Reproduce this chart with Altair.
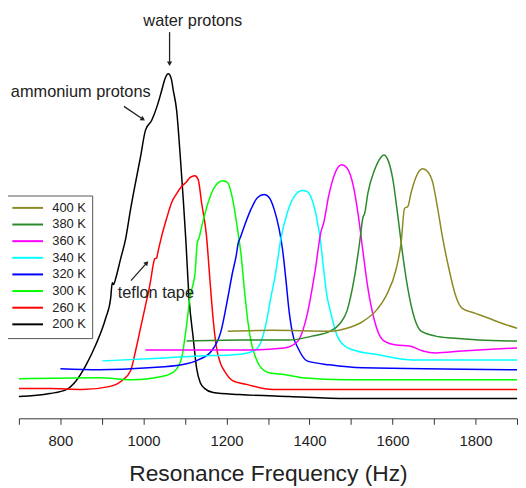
import altair as alt
import pandas as pd

FONT = "Liberation Sans"

labels = ["400 K", "380 K", "360 K", "340 K", "320 K", "300 K", "260 K", "200 K"]
colors = ["#8c8a22", "#2a8a2a", "#ff00ff", "#00ffff", "#0000ff", "#00ff00", "#ff0000", "#000000"]

f200 = [700, 774, 814, 838, 862, 885, 909, 921, 925, 928, 933, 945, 957, 969, 981, 993, 1005, 1020, 1032, 1044,
        1052, 1060, 1067, 1072, 1080, 1088, 1096, 1102, 1110, 1120, 1128, 1137, 1148, 1168, 1231, 1351, 1490, 1657, 1900]
i200 = [22, 25, 29, 38, 54, 74, 101, 121, 137, 135, 141, 161, 181, 211, 238, 264, 291, 301, 314, 331,
        343, 348, 343, 331, 311, 269, 221, 181, 121, 81, 51, 36, 30, 26, 24, 22, 20, 20, 20]

f260 = [700, 774, 853, 917, 948, 969, 981, 993, 1005, 1017, 1024, 1027, 1032, 1034, 1044, 1056, 1068, 1080, 1092, 1104,
        1112, 1124, 1132, 1140, 1152, 1160, 1168, 1175, 1187, 1195, 1215, 1251, 1311, 1490, 1900]
i260 = [30, 30, 29, 32, 38, 48, 68, 91, 114, 138, 156, 161, 162, 166, 184, 202, 218, 227, 234, 239,
        243, 245, 241, 218, 184, 141, 100, 74, 54, 48, 38, 34, 29, 29, 29]

f300 = [700, 893, 972, 1052, 1076, 1092, 1104, 1112, 1120, 1124, 1130, 1134, 1140, 1156, 1172, 1191, 1203, 1215, 1227, 1235,
        1243, 1251, 1259, 1270, 1280, 1303, 1342, 1382, 1490, 1900]
i300 = [40, 41, 39, 43, 48, 61, 94, 122, 136, 145, 178, 182, 193, 218, 234, 240, 238, 221, 190, 166,
        131, 100, 78, 62, 53, 46, 44, 41, 39, 39]

f320 = [800, 893, 1013, 1092, 1132, 1164, 1187, 1203, 1215, 1223, 1229, 1233, 1243, 1259, 1275, 1291, 1303, 1315, 1327, 1335,
        1343, 1351, 1362, 1370, 1394, 1449, 1529, 1900]
i320 = [50, 49, 51, 54, 59, 68, 88, 121, 148, 163, 178, 182, 194, 211, 223, 226, 223, 211, 191, 171,
        141, 108, 81, 73, 58, 54, 51, 49]

f340 = [901, 1052, 1132, 1211, 1251, 1275, 1283, 1295, 1307, 1319, 1331, 1347, 1362, 1382, 1394, 1406, 1418, 1426, 1434, 1442,
        1450, 1466, 1482, 1506, 1569, 1649, 1900]
i340 = [58, 61, 63, 64, 66, 71, 77, 95, 122, 148, 181, 208, 223, 230, 229, 221, 201, 181, 151, 124,
        109, 84, 74, 69, 64, 59, 59]

f360 = [1005, 1132, 1251, 1339, 1370, 1394, 1414, 1428, 1434, 1446, 1462, 1478, 1490, 1506, 1518, 1529, 1541, 1557, 1577, 1609,
        1641, 1673, 1704, 1768, 1848, 1900]
i360 = [69, 69, 69, 71, 77, 104, 150, 189, 197, 224, 248, 256, 253, 234, 204, 168, 131, 98, 79, 74,
        73, 68, 66, 68, 70, 71]

f380 = [1104, 1231, 1351, 1406, 1450, 1474, 1490, 1509, 1521, 1529, 1533, 1541, 1557, 1573, 1579, 1589, 1601, 1613, 1625, 1637,
        1653, 1669, 1704, 1744, 1808, 1900]
i380 = [78, 79, 79, 83, 88, 96, 108, 144, 178, 203, 207, 228, 251, 264, 266, 261, 241, 204, 164, 131,
        101, 88, 83, 81, 79, 78]

f400 = [1203, 1311, 1450, 1490, 1529, 1561, 1585, 1609, 1621, 1629, 1637, 1645, 1657, 1673, 1685, 1697, 1708, 1720, 1736, 1752,
        1768, 1800, 1832, 1863, 1900]
i400 = [88, 89, 88, 91, 98, 109, 124, 151, 178, 212, 214, 228, 244, 252, 249, 238, 214, 184, 151, 124,
        111, 106, 101, 96, 91]

series = [("200 K", f200, i200), ("260 K", f260, i260), ("300 K", f300, i300), ("320 K", f320, i320),
          ("340 K", f340, i340), ("360 K", f360, i360), ("380 K", f380, i380), ("400 K", f400, i400)]

rows = []
for k, (name, fs, ins) in enumerate(series):
    for j, (f, v) in enumerate(zip(fs, ins)):
        rows.append({"T": name, "freq": f, "inten": v, "ord": j})
df = pd.DataFrame(rows)

# annotations (data coordinates)
ann_text = ["water protons", "ammonium protons", "teflon tape"]
ann_x = [1119, 849, 1030]
ann_y = [401, 329, 126]

arr_x = [1063, 953, 970]
arr_y = [390, 315, 139]
arr_x2 = [1063, 999, 1008]
arr_y2 = [358, 302, 157]
arr_ang = [180, 124, 42]

ann_df = pd.DataFrame({"t": ann_text, "x": ann_x, "y": ann_y})
arr_df = pd.DataFrame({"x": arr_x, "y": arr_y, "x2": arr_x2, "y2": arr_y2, "ang": arr_ang})

xscale = alt.Scale(domain=[700, 1900], nice=False, zero=False)
yscale = alt.Scale(domain=[0, 412], nice=False, zero=False)

xaxis = alt.Axis(
    values=list(range(700, 1901, 100)), format="d",
    labelExpr="datum.value % 200 == 0 ? datum.label : ''",
    grid=False, tickSize=6, tickColor="#333", domainColor="#333", domainWidth=1, tickWidth=1,
    labelFont=FONT, labelFontSize=15, labelColor="#222", labelOverlap=False, labelFlush=False,
    labelPadding=9,
    title="Resonance Frequency (Hz)", titleFont=FONT, titleFontSize=23, titleFontWeight="normal",
    titleColor="#222", titleBaseline="alphabetic", titleY=63,
)

lines = alt.Chart(df).mark_line(strokeWidth=1.5, interpolate="monotone").encode(
    x=alt.X("freq:Q", scale=xscale, axis=xaxis),
    y=alt.Y("inten:Q", scale=yscale, axis=None),
    color=alt.Color("T:N", scale=alt.Scale(domain=labels, range=colors),
                    legend=alt.Legend(orient="none", legendX=-12, legendY=187, title=None,
                                      strokeColor="#555", fillColor="white", padding=6,
                                      symbolType="M-1.38,0H4.61", symbolSize=107, symbolStrokeWidth=2,
                                      labelFont=FONT, labelFontSize=13, labelColor="#222",
                                      rowPadding=2.8, labelOffset=26.7, symbolLimit=0)),
    order="ord:Q",
)

texts = alt.Chart(ann_df).mark_text(font=FONT, fontSize=16.5, color="#222", baseline="middle", align="center").encode(
    x=alt.X("x:Q", scale=xscale), y=alt.Y("y:Q", scale=yscale), text="t:N")

arrows = alt.Chart(arr_df).mark_rule(color="#222", strokeWidth=1.3).encode(
    x=alt.X("x:Q", scale=xscale), y=alt.Y("y:Q", scale=yscale), x2="x2:Q", y2="y2:Q")

heads = alt.Chart(arr_df).mark_point(shape="triangle-up", filled=True, size=28, color="#222", opacity=1).encode(
    x=alt.X("x2:Q", scale=xscale), y=alt.Y("y2:Q", scale=yscale), angle=alt.Angle("ang:Q", scale=None))

chart = alt.layer(lines, arrows, heads, texts).properties(
    width=503, height=412,
    autosize=alt.AutoSizeParams(type="none"),
    padding={"left": 11, "top": 0, "right": 1, "bottom": 66},
).configure_view(stroke=None)

chart.save("out.html", embed_options={"renderer": "svg", "actions": False})
